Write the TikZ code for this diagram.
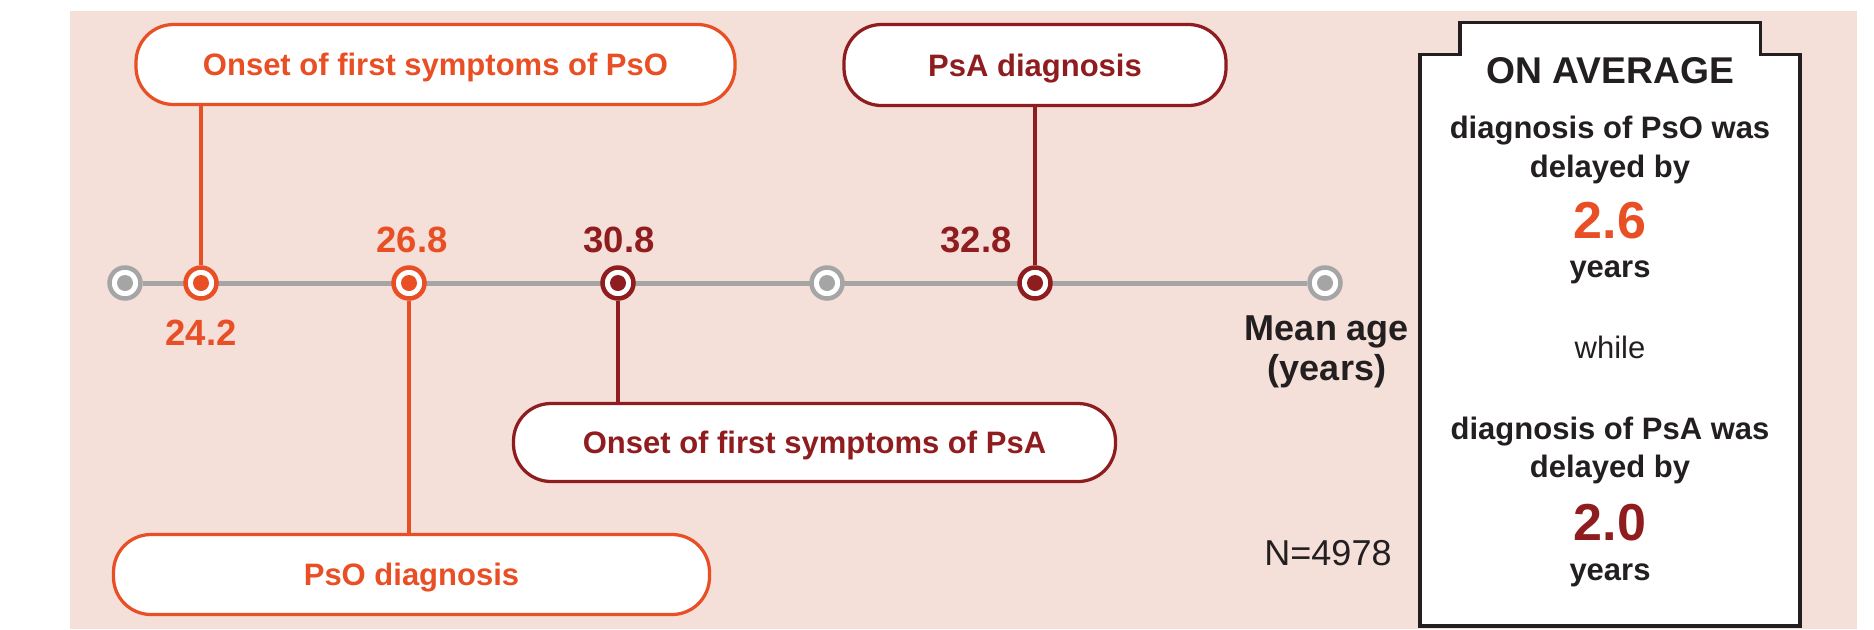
\documentclass[tikz,border=0pt]{standalone}
\usepackage{fontspec}
\setmainfont{Liberation Sans}
\usetikzlibrary{backgrounds}
\definecolor{pso}{HTML}{E94F25}
\definecolor{psa}{HTML}{8F1D1F}
\definecolor{tlgray}{HTML}{A5A5A5}
\definecolor{ink}{HTML}{231F20}
\definecolor{bgpink}{HTML}{F4DFD9}
\begin{document}
\begin{tikzpicture}[x=0.4pt,y=-0.4pt,
  evbox/.style={draw=#1, text=#1, fill=white, line width=1.3pt, rounded corners=15pt,
    inner sep=0pt, font=\bfseries\fontsize{12.4}{14}\selectfont,
    text height=8.9pt, text depth=0pt},
  tlpt/.style={circle, draw=#1, fill=white, line width=1.8pt, minimum size=12.4pt, inner sep=0pt,
    path picture={\fill[#1] (path picture bounding box.center) circle (3.2pt);}},
  agelbl/.style={text=#1, anchor=base, inner sep=0pt, font=\bfseries\fontsize{14.6}{17}\selectfont},
  conn/.style={draw=#1, line width=1.7pt},
  boxtxt/.style={text=ink, anchor=base, inner sep=0pt, font=\bfseries\fontsize{12.4}{14}\selectfont},
  bignum/.style={text=#1, anchor=base, inner sep=0pt, font=\bfseries\fontsize{20.8}{24}\selectfont},
]
\useasboundingbox (0,0) rectangle (1874,629);

% timeline points
\node[tlpt=tlgray] (c1) at (125,283) {};
\node[tlpt=pso]    (c2) at (201,283) {};
\node[tlpt=pso]    (c3) at (409,283) {};
\node[tlpt=psa]    (c4) at (618,283) {};
\node[tlpt=tlgray] (c5) at (827,283) {};
\node[tlpt=psa]    (c6) at (1035,283) {};
\node[tlpt=tlgray] (c7) at (1325,283) {};

% event boxes
\node[evbox=pso, minimum width=239.6pt, minimum height=32pt] (onsetPsO) at (435.5,64.5) {Onset of first symptoms of PsO};
\node[evbox=psa, minimum width=152.8pt, minimum height=32.4pt] (psaDiag) at (1035,65) {PsA diagnosis};
\node[evbox=psa, minimum width=240.8pt, minimum height=31.2pt] (onsetPsA) at (814.5,442.5) {Onset of first symptoms of PsA};
\node[evbox=pso, minimum width=238.4pt, minimum height=32pt] (psoDiag) at (411.5,574.5) {PsO diagnosis};

% age labels
\node[agelbl=pso] (l1) at (201,345) {24.2};
\node[agelbl=pso] (l2) at (412,252) {26.8};
\node[agelbl=psa] (l3) at (619,252) {30.8};
\node[agelbl=psa] (l4) at (976,252) {32.8};

% axis label and N
\node[text=ink, anchor=base, inner sep=0pt, font=\bfseries\fontsize{14.4}{17}\selectfont] (ax1) at (1327,340) {Mean age};
\node[text=ink, anchor=base, inner sep=0pt, font=\bfseries\fontsize{14.4}{17}\selectfont] (ax2) at (1327,380) {(years)};
\node[text=ink, anchor=base, inner sep=0pt, font=\fontsize{14.4}{17}\selectfont] (nn) at (1328,565) {N=4978};

% summary box
\draw[ink, line width=1.4pt, fill=white] (1420,626) -- (1420,54.5) -- (1460,54.5) -- (1460,22.5)
  -- (1760.5,22.5) -- (1760.5,54.5) -- (1800,54.5) -- (1800,626) -- cycle;
\node[boxtxt, font=\bfseries\fontsize{14.9}{17}\selectfont] (s0) at (1610,83) {ON AVERAGE};
\node[boxtxt] (s1) at (1610,138) {diagnosis of PsO was};
\node[boxtxt] (s2) at (1610,177) {delayed by};
\node[bignum=pso] (s3) at (1610,238) {2.6};
\node[boxtxt] (s4) at (1610,277) {years};
\node[boxtxt, font=\fontsize{12.4}{14}\selectfont] (s5) at (1610,358) {while};
\node[boxtxt] (s6) at (1610,439) {diagnosis of PsA was};
\node[boxtxt] (s7) at (1610,477) {delayed by};
\node[bignum=psa] (s8) at (1610,540) {2.0};
\node[boxtxt] (s9) at (1610,580) {years};

\begin{scope}[on background layer]
  \fill[bgpink] (70,11) rectangle (1857,629);
  \draw[tlgray, line width=2pt] (c1) -- (c7);
  \draw[conn=pso] (c2) -- (c2 |- onsetPsO.south);
  \draw[conn=pso] (c3) -- (c3 |- psoDiag.north);
  \draw[conn=psa] (c4) -- (c4 |- onsetPsA.north);
  \draw[conn=psa] (c6) -- (c6 |- psaDiag.south);
\end{scope}
\end{tikzpicture}
\end{document}
